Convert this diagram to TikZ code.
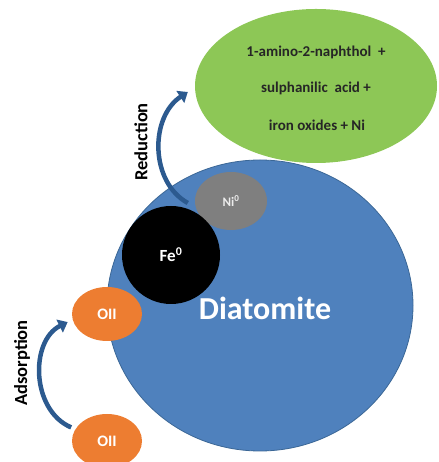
\documentclass[tikz,border=0pt]{standalone}
\usepackage{fontspec}
\setmainfont{Carlito}
\usetikzlibrary{arrows.meta,shapes.geometric,calc}

\definecolor{diablue}{HTML}{4F81BD}
\definecolor{diaedge}{HTML}{3B6796}
\definecolor{prodgreen}{HTML}{8DC756}
\definecolor{oilorange}{HTML}{ED7D31}
\definecolor{nigray}{HTML}{7F7F7F}
\definecolor{arrowblue}{HTML}{2C5A8F}
\definecolor{darktext}{HTML}{262626}

\begin{document}
\begin{tikzpicture}[x=1pt,y=1pt,
    blob/.style={ellipse, inner sep=0pt, text=white, font=\bfseries},
    stepline/.style={line width=4.5pt, draw=arrowblue,
        -{Triangle[width=14pt,length=9pt]}},
    sidetext/.style={rotate=90, font=\bfseries\fontsize{18.5}{22}\selectfont}]
    % The picture is measured in points, with the origin at the lower left
    \useasboundingbox (0,0) rectangle (438,462);
    % Carrier particle and the product cloud
    \node[blob, fill=diablue, draw=diaedge, line width=0.8pt,
        minimum width=306pt, minimum height=291pt] (dia) at (260,156.5) {};
    \node[blob, fill=prodgreen, minimum width=242pt, minimum height=154pt]
        (prod) at (316,376) {};
    \node[text=white, font=\bfseries\fontsize{32}{38}\selectfont]
        (dialabel) at (265,154) {Diatomite};
    % Text inside the green cloud
    \node[text=darktext, font=\bfseries\fontsize{15}{18}\selectfont]
        (line1) at (316,410) {1-amino-2-naphthol~~+};
    \node[text=darktext, font=\bfseries\fontsize{15}{18}\selectfont]
        (line2) at (316,374) {sulphanilic~~acid~+};
    \node[text=darktext, font=\bfseries\fontsize{15}{18}\selectfont]
        (line3) at (317,337) {iron oxides + Ni};
    % Metal particles on the surface
    \node[blob, fill=nigray, minimum width=72pt, minimum height=58pt,
        text=white!85!gray, font=\bfseries\fontsize{13}{15}\selectfont]
        (ni) at (231,261) {Ni\textsuperscript{0}};
    \node[blob, fill=black, minimum width=98pt, minimum height=98pt,
        font=\bfseries\fontsize{17}{20}\selectfont]
        (fe) at (171,207) {Fe\textsuperscript{0}};
    % The dye before and after adsorption
    \node[blob, fill=oilorange, minimum width=70pt, minimum height=54pt,
        font=\bfseries\fontsize{16}{19}\selectfont] (oiup) at (107,148) {OII};
    \node[blob, fill=oilorange, minimum width=70pt, minimum height=54pt,
        font=\bfseries\fontsize{16}{19}\selectfont] (oilow) at (107,21) {OII};
    % Curved arrows
    \draw[stepline] ($(ni.west)+(-7,-2)$)
        .. controls +(-38,21) and +(-38,-25) .. ($(prod.west)+(-7,-6)$);
    \draw[stepline] ($(oilow.160)+(-4,2)$)
        .. controls +(-40,17) and +(-38,-19) .. ($(oiup.190)+(-5,-2)$);
    \node[sidetext] (redlabel) at (141,320) {Reduction};
    \node[sidetext] (adslabel) at (22,99) {Adsorption};
\end{tikzpicture}
\end{document}
